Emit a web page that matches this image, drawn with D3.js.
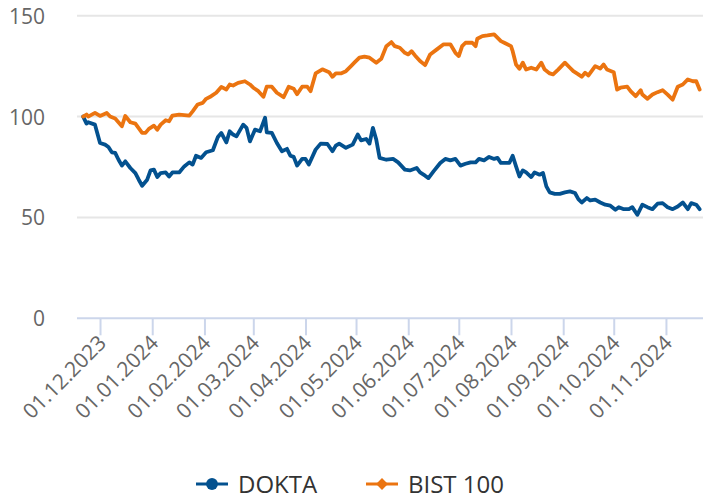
<!DOCTYPE html>
<html lang="tr">
<head>
    <meta charset="UTF-8">
    <title>DOKTA - BIST 100</title>
    <script src="https://cdn.jsdelivr.net/npm/d3@7"></script>
    <style>
        body { margin: 0; background: #fff; }
        text { font-family: "Open Sans", "Noto Sans", sans-serif; }
    </style>
</head>
<body>
    <div id="chart"></div>
    <script>
        // series names and colours
        const seriesNames = ['DOKTA', 'BIST 100'];
        const seriesColors = ['#03518f', '#eb7410'];

        // DOKTA (normalised to 100)
        const dokDates = [
            '2023-11-21','2023-11-23','2023-11-24','2023-11-28',
            '2023-12-01','2023-12-04','2023-12-06','2023-12-08','2023-12-10','2023-12-12','2023-12-14','2023-12-16','2023-12-19','2023-12-22','2023-12-24','2023-12-26','2023-12-29','2023-12-31',
            '2024-01-02','2024-01-04','2024-01-06','2024-01-09','2024-01-11','2024-01-13','2024-01-17','2024-01-20','2024-01-23','2024-01-25','2024-01-27','2024-01-30',
            '2024-02-02','2024-02-06','2024-02-09','2024-02-11','2024-02-14','2024-02-16','2024-02-18','2024-02-20','2024-02-24','2024-02-26','2024-02-28',
            '2024-03-02','2024-03-05','2024-03-08','2024-03-09','2024-03-12','2024-03-15','2024-03-18','2024-03-21','2024-03-23','2024-03-25','2024-03-27','2024-03-30',
            '2024-04-01','2024-04-03','2024-04-07','2024-04-10','2024-04-14','2024-04-17','2024-04-19','2024-04-21','2024-04-25','2024-04-29',
            '2024-05-02','2024-05-04','2024-05-07','2024-05-09','2024-05-11','2024-05-13','2024-05-15','2024-05-19','2024-05-23','2024-05-26','2024-05-30',
            '2024-06-02','2024-06-06','2024-06-08','2024-06-11','2024-06-13','2024-06-16','2024-06-20','2024-06-23','2024-06-26','2024-06-29',
            '2024-07-02','2024-07-05','2024-07-08','2024-07-11','2024-07-13','2024-07-16','2024-07-19','2024-07-22','2024-07-24','2024-07-26','2024-07-29','2024-07-31',
            '2024-08-02','2024-08-04','2024-08-06','2024-08-08','2024-08-10','2024-08-13','2024-08-15','2024-08-18','2024-08-20','2024-08-22','2024-08-24','2024-08-27','2024-08-30',
            '2024-09-02','2024-09-05','2024-09-08','2024-09-10','2024-09-12','2024-09-15','2024-09-17','2024-09-20','2024-09-23','2024-09-26','2024-09-29',
            '2024-10-02','2024-10-04','2024-10-07','2024-10-10','2024-10-12','2024-10-15','2024-10-18','2024-10-21','2024-10-24','2024-10-27','2024-10-30',
            '2024-11-02','2024-11-05','2024-11-08','2024-11-11','2024-11-14','2024-11-16','2024-11-19','2024-11-21'
        ];
        const dokValues = [
            100, 96.5, 97.2, 96,
            86.9, 86.1, 84.9, 82.3, 82, 78.6, 75.7, 77.8, 74.5, 72, 68.7, 65.7, 68.7, 73.3,
            73.7, 70, 72, 72.3, 70.3, 72.3, 72.3, 75.3, 77.3, 76.2, 80.6, 79.5,
            82.3, 83.3, 89.9, 91.9, 87.2, 92.7, 91.1, 90.2, 96, 94.4, 87.7,
            93.5, 92.7, 99.4, 92.2, 91.9, 86.9, 82.8, 84, 80.6, 80, 75.7, 79,
            79, 76.2, 83.6, 86.6, 86.4, 82.8, 85.6, 86.6, 84.5, 86.1,
            91.1, 88.2, 88.9, 86.6, 94.4, 88.6, 79.5, 78.6, 79, 77.3, 73.7,
            73.3, 74.5, 72.3, 70.7, 69.5, 72.8, 77, 79, 78.3, 79,
            75.7, 76.6, 77.3, 77.3, 79, 78.3, 80, 79, 79.5, 77, 77, 77,
            80.6, 75.3, 70.3, 73.3, 72.3, 70, 72.3, 71.2, 72, 65.4, 62.4, 61.7, 61.7,
            62.4, 62.9, 62.1, 59.1, 57.4, 59.6, 58.4, 58.8, 57.4, 56.3, 55.8,
            53.8, 55.1, 54.1, 54.1, 55.1, 51.3, 56.3, 55.1, 54.1, 56.8, 57.1,
            55.1, 54.1, 55.4, 57.4, 54.1, 57.1, 56.3, 54.1
        ];

        // BIST 100 (normalised to 100)
        const bistDates = [
            '2023-11-21','2023-11-23','2023-11-24','2023-11-28',
            '2023-12-01','2023-12-05','2023-12-07','2023-12-10','2023-12-14','2023-12-16','2023-12-19','2023-12-22','2023-12-26','2023-12-28','2023-12-30',
            '2024-01-02','2024-01-04','2024-01-06','2024-01-09','2024-01-11','2024-01-13','2024-01-17','2024-01-23','2024-01-25','2024-01-28','2024-01-31',
            '2024-02-02','2024-02-05','2024-02-08','2024-02-11','2024-02-14','2024-02-16','2024-02-18','2024-02-21','2024-02-25','2024-02-28',
            '2024-03-01','2024-03-04','2024-03-07','2024-03-09','2024-03-12','2024-03-15','2024-03-19','2024-03-22','2024-03-25','2024-03-27','2024-03-30',
            '2024-04-02','2024-04-04','2024-04-07','2024-04-11','2024-04-15','2024-04-17','2024-04-19','2024-04-22','2024-04-25','2024-04-28','2024-04-30',
            '2024-05-03','2024-05-06','2024-05-09','2024-05-13','2024-05-16','2024-05-19','2024-05-22','2024-05-24','2024-05-27','2024-05-30',
            '2024-06-01','2024-06-03','2024-06-05','2024-06-08','2024-06-11','2024-06-14','2024-06-18','2024-06-22','2024-06-26','2024-06-29',
            '2024-07-01','2024-07-03','2024-07-05','2024-07-09','2024-07-11','2024-07-12','2024-07-15','2024-07-18','2024-07-22','2024-07-26','2024-07-28',
            '2024-08-01','2024-08-02','2024-08-04','2024-08-06','2024-08-08','2024-08-10','2024-08-13','2024-08-16','2024-08-19','2024-08-21','2024-08-24','2024-08-26','2024-08-29',
            '2024-09-02','2024-09-05','2024-09-07','2024-09-10','2024-09-12','2024-09-14','2024-09-16','2024-09-20','2024-09-23','2024-09-25','2024-09-27',
            '2024-10-01','2024-10-03','2024-10-05','2024-10-09','2024-10-11','2024-10-14','2024-10-17','2024-10-18','2024-10-21','2024-10-24','2024-10-27','2024-10-30',
            '2024-11-02','2024-11-05','2024-11-08','2024-11-11','2024-11-14','2024-11-17','2024-11-19','2024-11-21'
        ];
        const bistValues = [
            100, 101, 100, 101.8,
            100.3, 101.8, 100, 99, 95.2, 100.3, 97.2, 96.5, 91.9, 91.9, 93.9,
            95.5, 93.5, 96, 98.2, 97.7, 100.5, 101, 100.5, 102.6, 106, 106.8,
            108.8, 110.1, 111.8, 114.7, 113.4, 115.9, 115.4, 116.7, 117.5, 115.9,
            114.3, 112.6, 109.8, 114.8, 114.8, 111.8, 109.6, 114.8, 113.8, 111.1, 114.8,
            114.8, 112.6, 121.4, 123.4, 122, 119.7, 121.4, 121.4, 122.5, 125, 126.7,
            129.2, 129.7, 129.2, 126.7, 128.7, 134.9, 136.9, 134.9, 134.1, 131.6,
            130.8, 132.4, 130.3, 127.5, 125.5, 130.8, 133.3, 135.8, 135.8, 131.6,
            130, 134.9, 136.6, 136.6, 134.9, 138.6, 139.9, 140.2, 140.7, 137.4, 136.6,
            134.9, 132.4, 125.8, 123.7, 126.7, 123.3, 124.2, 123.3, 126.7, 123.3, 121.4, 120.9, 123.3,
            126.7, 124.2, 122.5, 120.9, 119.7, 121.7, 120.4, 125, 123.8, 125.8, 123.3,
            122, 113.4, 114.3, 114.8, 112.6, 110.1, 113.1, 110.9, 108.8, 110.9, 112.1, 113.1,
            110.9, 108.4, 114.8, 115.9, 118.4, 117.5, 117.5, 113.4
        ];

        // axis ticks
        const xTicks = ['2023-12-01','2024-01-01','2024-02-01','2024-03-01','2024-04-01','2024-05-01',
                        '2024-06-01','2024-07-01','2024-08-01','2024-09-01','2024-10-01','2024-11-01'];
        const yTicks = [0, 50, 100, 150];

        const c_width = 703, c_height = 499;
        const padding = {left: 77, right: 0, top: 15.7, bottom: 180.7};

        const parse = d3.utcParse('%Y-%m-%d');
        const fmt = d3.utcFormat('%d.%m.%Y');

        var svg = d3.select('#chart')
                    .append('svg')
                    .attr('width', c_width)
                    .attr('height', c_height);

        var xScale = d3.scaleUtc()
                .domain([new Date(Date.UTC(2023, 10, 17, 8)), new Date(Date.UTC(2024, 10, 23))])
                .range([padding.left, c_width - padding.right]);
        var yScale = d3.scaleLinear()
                .domain([0, 150])
                .range([c_height - padding.bottom, padding.top]);

        // grid lines
        svg.append('g')
            .selectAll('line')
            .data(yTicks.filter(d => d > 0))
            .enter()
            .append('line')
            .attr('x1', padding.left)
            .attr('x2', c_width - padding.right)
            .attr('y1', d => yScale(d))
            .attr('y2', d => yScale(d))
            .attr('stroke', '#e6e6e6')
            .attr('stroke-width', 2);

        // y labels
        svg.append('g')
            .selectAll('text')
            .data(yTicks)
            .enter()
            .append('text')
            .text(d => d)
            .attr('x', 45)
            .attr('y', d => yScale(d) + 8)
            .attr('text-anchor', 'end')
            .style('font-size', '21px')
            .style('fill', '#666666');

        // x axis
        var xAxis = svg.append('g')
            .attr('transform', 'translate(0,' + (c_height - padding.bottom) + ')')
            .call(d3.axisBottom(xScale)
                    .tickValues(xTicks.map(parse))
                    .tickSize(17)
                    .tickFormat(fmt));
        xAxis.select('.domain')
            .attr('stroke', '#ccd6eb')
            .attr('stroke-width', 2)
            .attr('d', 'M' + padding.left + ',0H' + (c_width - padding.right));
        xAxis.selectAll('.tick line')
            .attr('stroke', '#ccd6eb')
            .attr('stroke-width', 2);
        xAxis.selectAll('.tick text')
            .attr('x', 0)
            .attr('y', 0)
            .attr('dy', 0)
            .attr('text-anchor', 'end')
            .attr('transform', 'translate(7,26) rotate(-45)')
            .style('font-size', '21px')
            .style('font-family', '"Open Sans", sans-serif')
            .style('fill', '#666666');

        // lines
        var line = d3.line()
            .x(d => xScale(d.date))
            .y(d => yScale(d.value));

        var series = [
            dokDates.map((d, i) => ({date: parse(d), value: dokValues[i]})),
            bistDates.map((d, i) => ({date: parse(d), value: bistValues[i]}))
        ];

        series.forEach(function(s, i) {
            svg.append('path')
                .datum(s)
                .attr('d', line)
                .attr('fill', 'none')
                .attr('stroke', seriesColors[i])
                .attr('stroke-width', 3.8)
                .attr('stroke-linejoin', 'round')
                .attr('stroke-linecap', 'round');
        });

        // legend
        var legendX = [196, 366];
        var legend = svg.append('g');
        seriesNames.forEach(function(name, i) {
            var g = legend.append('g').attr('transform', 'translate(' + legendX[i] + ',484)');
            g.append('line')
                .attr('x1', 0).attr('x2', 32)
                .attr('y1', 0).attr('y2', 0)
                .attr('stroke', seriesColors[i])
                .attr('stroke-width', 3);
            g.append('path')
                .attr('d', d3.symbol().type(i == 0 ? d3.symbolCircle : d3.symbolSquare).size(i == 0 ? 110 : 70))
                .attr('transform', 'translate(16,0)' + (i == 0 ? '' : ' rotate(45)'))
                .attr('fill', seriesColors[i]);
            g.append('text')
                .text(name)
                .attr('x', 42)
                .attr('y', 8.5)
                .style('font-size', '24px')
                .style('fill', '#333333');
        });
    </script>
</body>
</html>
